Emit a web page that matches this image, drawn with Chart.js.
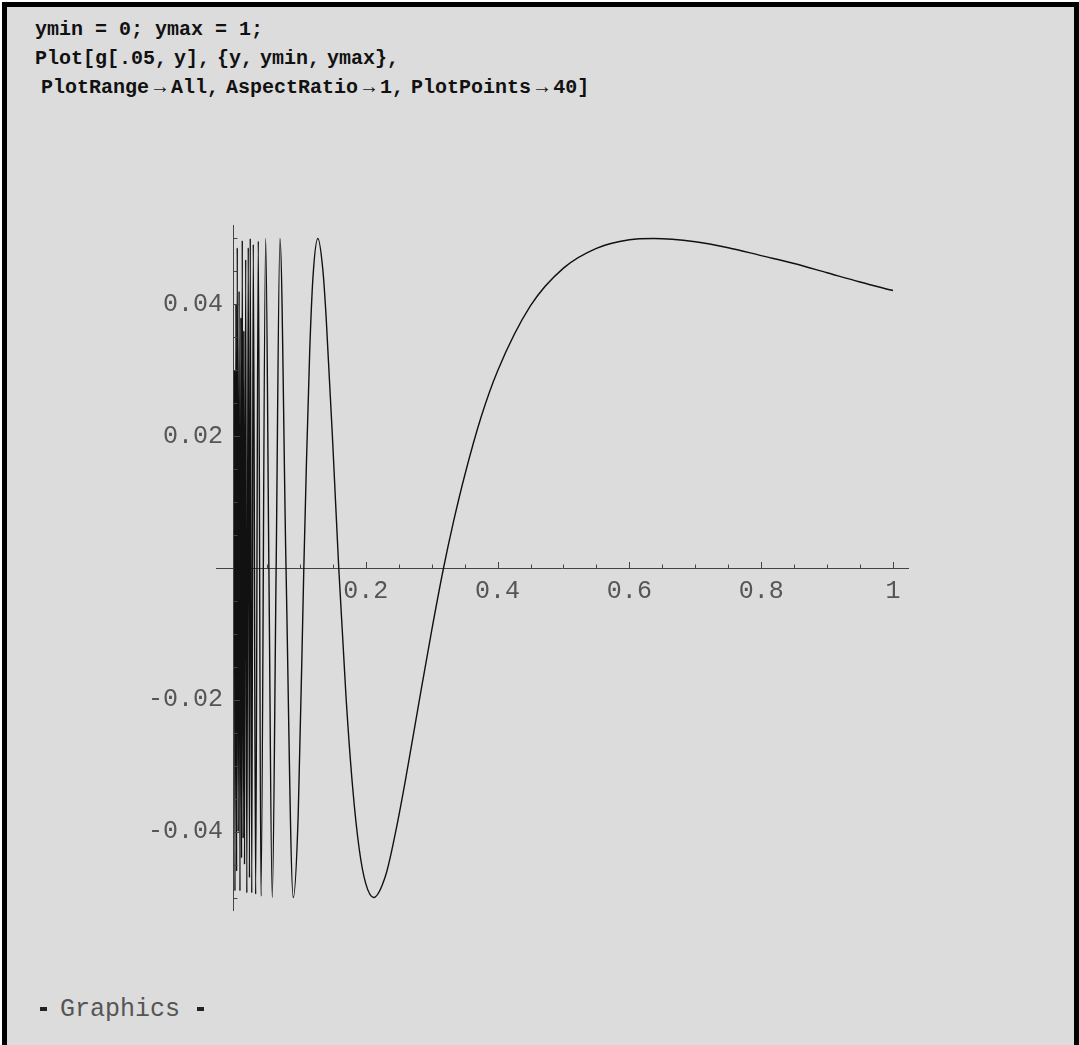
<!DOCTYPE html>
<html>
<head>
<meta charset="utf-8">
<script src="https://cdn.jsdelivr.net/npm/chart.js@4.4.0/dist/chart.umd.min.js"></script>
<style>
  html, body { margin: 0; padding: 0; background: #fff; width: 1079px; height: 1045px; overflow: hidden; }
  #frame { position: absolute; left: 2px; top: 2px; width: 1067px; height: 1100px; background: #dcdcdc;
           border: 5px solid #000; border-bottom: none; }
  .code { position: absolute; font-family: 'Courier New', 'Liberation Mono', monospace; font-weight: bold;
          font-size: 20px; color: #111; white-space: pre; line-height: 24px; }
  .code .ar { display: inline-block; width: 22px; text-align: center; }
  .code .cm { display: inline-block; width: 7px; }
  .mono { position: absolute; font-family: 'Courier New', 'Liberation Mono', monospace;
          font-size: 25px; color: #555; white-space: pre; }
  .dash { position: absolute; width: 7px; height: 4px; background: #222; }
  #plot { position: absolute; left: 100px; top: 180px; }
</style>
</head>
<body>
<div id="frame"></div>
<div class="code" style="left:35px; top:18px;">ymin = 0; ymax = 1;</div>
<div class="code" style="left:35px; top:47px; word-spacing:-5px;">Plot[g[.05, y], {y, ymin, ymax},</div>
<div class="code" style="left:41px; top:76px;">PlotRange<span class="ar">→</span>All,<span class="cm"></span>AspectRatio<span class="ar">→</span>1,<span class="cm"></span>PlotPoints<span class="ar">→</span>40]</div>
<div class="dash" style="left:40px; top:1007px;"></div>
<div class="mono" style="left:60px; top:995px;">Graphics</div>
<div class="dash" style="left:197px; top:1007px;"></div>
<canvas id="plot" width="850" height="760"></canvas>
<script>
// values: horizontal variable y and g[.05, y]
const yValues = [
  0.0008, 0.0015, 0.0030, 0.0040, 0.0050, 0.0065, 0.0078, 0.0091, 0.0105, 0.0115,
  0.0126, 0.0140, 0.0150, 0.0160, 0.0178, 0.0195, 0.0217, 0.0235, 0.0247, 0.0270,
  0.0293, 0.0329, 0.0369, 0.0410, 0.0481, 0.0530, 0.0581, 0.0640, 0.0698, 0.0790,
  0.0900, 0.0975, 0.1060, 0.1100, 0.1150, 0.1200, 0.1273, 0.1350, 0.1400, 0.1500,
  0.1590, 0.1700, 0.1800, 0.1900, 0.2000, 0.2120, 0.2300, 0.2450, 0.2600, 0.2800,
  0.3000, 0.3180, 0.3333, 0.3500, 0.3750, 0.4000, 0.4500, 0.5000, 0.5500, 0.6000,
  0.6370, 0.7000, 0.7500, 0.8000, 0.8500, 0.9000, 0.9500, 1.0000
];
const gValues = [
  0.0300, -0.0490, 0.0400, -0.0460, 0.0486, -0.0400, 0.0420, -0.0490, 0.0380, -0.0440,
  0.0497, -0.0410, 0.0360, -0.0450, 0.0468, -0.0493, 0.0486, -0.0470, 0.0500, -0.0493,
  0.0491, -0.0495, 0.0496, -0.0498, 0.0500, 0.0000, -0.0500, 0.0000, 0.0500, 0.0000,
  -0.0500, -0.0374, 0.0000, 0.0161, 0.0331, 0.0443, 0.0500, 0.0451, 0.0378, 0.0187,
  0.0000, -0.0195, -0.0332, -0.0426, -0.0479, -0.0500, -0.0467, -0.0402, -0.0323, -0.0208,
  -0.0095, 0.0000, 0.0071, 0.0140, 0.0229, 0.0299, 0.0398, 0.0455, 0.0485, 0.0498,
  0.0500, 0.0495, 0.0486, 0.0474, 0.0462, 0.0448, 0.0434, 0.0421
];

const xTicks = [0.2, 0.4, 0.6, 0.8, 1];
const xTickLabels = ['0.2', '0.4', '0.6', '0.8', '1'];
const yTicks = [-0.04, -0.02, 0.02, 0.04];
const yTickLabels = ['-0.04', '-0.02', '0.02', '0.04'];

// minor tick marks between the labelled ones
const xMinor = [];
for (let i = 1; i <= 20; i++) xMinor.push(+(i * 0.05).toFixed(3));
const yMinor = [];
for (let i = -10; i <= 10; i++) if (i !== 0) yMinor.push(+(i * 0.005).toFixed(4));

function isIn(v, arr) {
  return arr.some(a => Math.abs(a - v) < 1e-9);
}
function labelFor(v, ticks, labels) {
  for (let i = 0; i < ticks.length; i++) {
    if (Math.abs(ticks[i] - v) < 1e-9) return labels[i];
  }
  return '';
}

const points = yValues.map((v, i) => ({x: v, y: gValues[i]}));

const monoFont = "'Courier New', 'Liberation Mono', monospace";

// Mathematica style ticks: drawn inward from the axes, y labels left of the axis
const tickMarks = {
  id: 'tickMarks',
  afterDraw(chart) {
    const ctx = chart.ctx;
    const xs = chart.scales.x, ys = chart.scales.y;
    const x0 = xs.getPixelForValue(0), y0 = ys.getPixelForValue(0);
    ctx.save();
    ctx.strokeStyle = '#444';
    ctx.lineWidth = 1;
    ctx.beginPath();
    xs.ticks.forEach(t => {
      const len = isIn(t.value, xTicks) ? 6 : 3.5;
      const px = Math.round(xs.getPixelForValue(t.value)) + 0.5;
      ctx.moveTo(px, y0);
      ctx.lineTo(px, y0 - len);
    });
    ys.ticks.forEach(t => {
      const len = isIn(t.value, yTicks) ? 6 : 3.5;
      const py = Math.round(ys.getPixelForValue(t.value)) + 0.5;
      ctx.moveTo(x0, py);
      ctx.lineTo(x0 + len, py);
    });
    ctx.stroke();

    ctx.fillStyle = '#555';
    ctx.font = '25px ' + monoFont;
    ctx.textAlign = 'right';
    ctx.textBaseline = 'middle';
    yTicks.forEach((v, i) => {
      ctx.fillText(yTickLabels[i], x0 - 11, ys.getPixelForValue(v));
    });
    ctx.restore();
  }
};

const ctx = document.getElementById('plot').getContext('2d');
new Chart(ctx, {
  type: 'line',
  data: {
    datasets: [{
      data: points,
      borderColor: '#111',
      borderWidth: 1.4,
      pointRadius: 0,
      fill: false,
      cubicInterpolationMode: 'monotone'
    }]
  },
  options: {
    responsive: false,
    animation: false,
    devicePixelRatio: 1,
    layout: { padding: { left: 116.7, right: 41.4, top: 45.3, bottom: 29.3 } },
    plugins: { legend: { display: false }, tooltip: { enabled: false } },
    scales: {
      x: {
        type: 'linear',
        min: -0.0262,
        max: 1.0237,
        position: { y: 0 },
        grid: { drawOnChartArea: false, drawTicks: false },
        border: { display: true, color: '#444', width: 1 },
        afterBuildTicks: s => {
          s.ticks = xMinor.slice().sort((a, b) => a - b).map(v => ({ value: v }));
        },
        ticks: {
          autoSkip: false, maxRotation: 0, padding: 8, color: '#555',
          font: { family: monoFont, size: 25 },
          callback: v => labelFor(v, xTicks, xTickLabels)
        }
      },
      y: {
        type: 'linear',
        min: -0.052,
        max: 0.052,
        position: { x: 0 },
        grid: { drawOnChartArea: false, drawTicks: false },
        border: { display: true, color: '#444', width: 1 },
        afterBuildTicks: s => {
          s.ticks = yMinor.slice().sort((a, b) => a - b).map(v => ({ value: v }));
        },
        ticks: { display: false }
      }
    }
  },
  plugins: [tickMarks]
});
</script>
</body>
</html>
